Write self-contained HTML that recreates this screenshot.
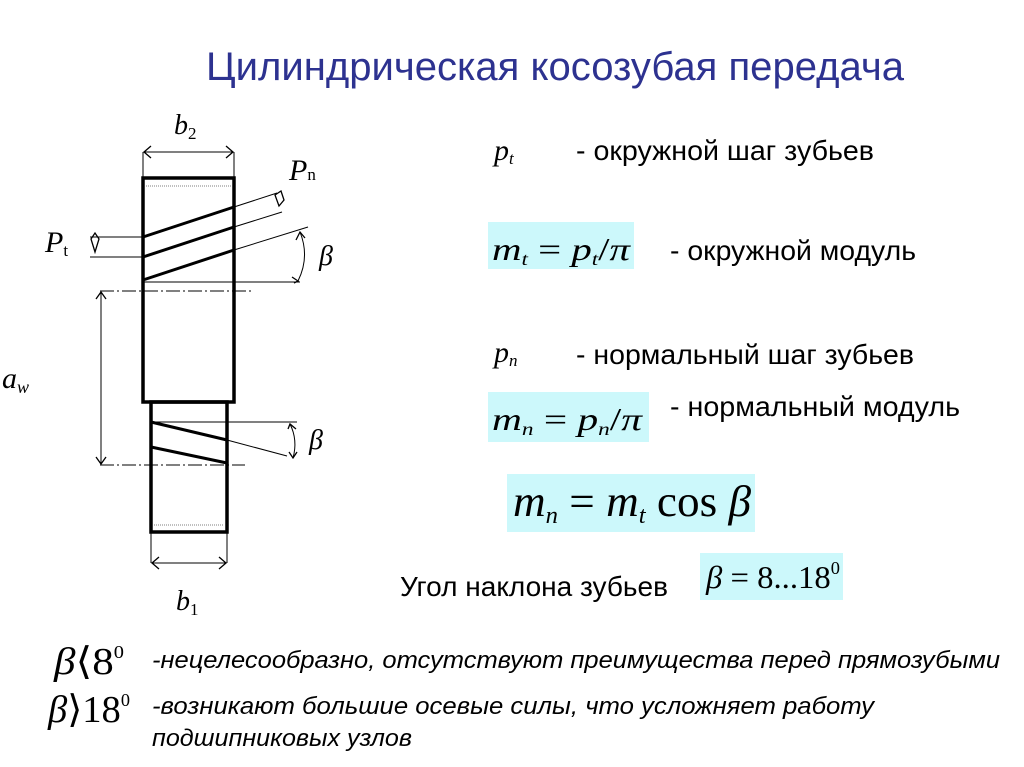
<!DOCTYPE html>
<html><head><meta charset="utf-8"><style>
body{margin:0;background:#fff;}
svg{display:block}
.s{font-family:"Liberation Sans",sans-serif;fill:#000}
.m{font-family:"Liberation Serif",serif;font-style:italic;fill:#000}
.r{font-family:"Liberation Serif",serif;fill:#000}
</style></head><body>
<svg width="1024" height="767" viewBox="0 0 1024 767" xmlns="http://www.w3.org/2000/svg">
<text x="206" y="80" class="s" font-size="40" textLength="698" lengthAdjust="spacingAndGlyphs" style="fill:#2d3290">Цилиндрическая косозубая передача</text>

<g stroke="#000" fill="none">
<rect x="143" y="178" width="91" height="224" stroke-width="3.5"/>
<rect x="151" y="402" width="76" height="130" stroke-width="3.5"/>
<line x1="146" y1="186" x2="231" y2="186" stroke-width="0.6" stroke-dasharray="1,1"/>
<line x1="154" y1="525" x2="224" y2="525" stroke-width="0.6" stroke-dasharray="1,1"/>
<line x1="143" y1="237" x2="234" y2="207" stroke-width="3"/>
<line x1="143" y1="257" x2="234" y2="227" stroke-width="3"/>
<line x1="143" y1="280" x2="234" y2="250" stroke-width="3"/>
<g stroke-width="1">
<line x1="234" y1="207" x2="277" y2="193"/>
<line x1="234" y1="227" x2="282" y2="212"/>
<line x1="234" y1="250" x2="308" y2="227"/>
<line x1="143" y1="282" x2="300" y2="282"/>
<line x1="90" y1="237" x2="143" y2="237"/>
<line x1="90" y1="257" x2="143" y2="257"/>
<path d="M300 232 Q310 257 298 281"/>
<line x1="143" y1="152" x2="143" y2="178"/><line x1="234" y1="152" x2="234" y2="178"/>
<line x1="144" y1="152" x2="233" y2="152"/>
<line x1="151" y1="532" x2="151" y2="563"/><line x1="227" y1="532" x2="227" y2="563"/>
<line x1="152" y1="563" x2="226" y2="563"/>
<line x1="101" y1="292" x2="101" y2="464"/>
<line x1="100" y1="291" x2="252" y2="291" stroke-dasharray="14,3,2,3"/>
<line x1="100" y1="465" x2="245" y2="465" stroke-dasharray="14,3,2,3"/>
<line x1="151" y1="422" x2="297" y2="422"/>
<line x1="227" y1="440" x2="287" y2="456"/>
<path d="M290 424 Q298 440 293 458"/>
</g>
<line x1="151" y1="422" x2="227" y2="440" stroke-width="3"/>
<line x1="151" y1="447" x2="227" y2="463" stroke-width="3"/>
<g stroke-width="1.3">
<path d="M151 146 L144 152 L151 158 M226 146 L233 152 L226 158"/>
<path d="M159 557 L152 563 L159 569 M219 557 L226 563 L219 569"/>
<path d="M96 299 L101 292 L106 299 M96 457 L101 464 L106 457"/>
<path d="M91 239 L95 233 L99 239 L95 252 Z"/>
<path d="M275 195 L281 191 L284 200 L279 206 Z"/>
<path d="M296 240 L300 232 L305 238 M292 277 L298 281 L294 283"/>
<path d="M288 429 L290 424 L296 429 M289 452 L293 458 L297 452"/>
</g>
</g>
<text x="174" y="134" class="m" font-size="28">b<tspan font-size="17" font-style="normal" dy="5">2</tspan></text>
<text x="289" y="180" class="m" font-size="30">P<tspan font-size="17" font-style="normal">n</tspan></text>
<text x="45" y="252" class="m" font-size="30">P<tspan font-size="17" font-style="normal" dy="4">t</tspan></text>
<text x="319" y="265" class="m" font-size="28">β</text>
<text x="309" y="449" class="m" font-size="28">β</text>
<text x="2" y="388" class="m" font-size="30">a<tspan font-size="18" dy="5">w</tspan></text>
<text x="176" y="610" class="m" font-size="28">b<tspan font-size="17" font-style="normal" dy="5">1</tspan></text>

<rect x="488" y="222" width="146" height="47" fill="#ccf8fb"/>
<rect x="488" y="392" width="161" height="50" fill="#ccf8fb"/>
<rect x="507" y="474" width="248" height="58" fill="#ccf8fb"/>
<rect x="700" y="553" width="143" height="47" fill="#ccf8fb"/>

<text x="494" y="160" class="m" font-size="30">p<tspan font-size="17" dy="4">t</tspan></text>
<text x="576" y="160" class="s" font-size="28" textLength="298" lengthAdjust="spacingAndGlyphs">- окружной шаг зубьев</text>
<text x="492" y="260" class="m" font-size="32" textLength="138" lengthAdjust="spacingAndGlyphs">m<tspan font-size="18" dy="5">t</tspan><tspan dy="-5" font-style="normal"> = </tspan>p<tspan font-size="18" dy="5">t</tspan><tspan dy="-5" font-style="normal">/</tspan>π</text>
<text x="670" y="260" class="s" font-size="28" textLength="246" lengthAdjust="spacingAndGlyphs">- окружной модуль</text>
<text x="494" y="362" class="m" font-size="30">p<tspan font-size="17" dy="4">n</tspan></text>
<text x="576" y="364" class="s" font-size="28" textLength="338" lengthAdjust="spacingAndGlyphs">- нормальный шаг зубьев</text>
<text x="492" y="430" class="m" font-size="32" textLength="150" lengthAdjust="spacingAndGlyphs">m<tspan font-size="18" dy="5">n</tspan><tspan dy="-5" font-style="normal"> = </tspan>p<tspan font-size="18" dy="5">n</tspan><tspan dy="-5" font-style="normal">/</tspan>π</text>
<text x="670" y="416" class="s" font-size="28" textLength="290" lengthAdjust="spacingAndGlyphs">- нормальный модуль</text>
<text x="513" y="516" class="m" font-size="44" textLength="238" lengthAdjust="spacingAndGlyphs">m<tspan font-size="24" dy="7">n</tspan><tspan dy="-7" font-style="normal"> = </tspan>m<tspan font-size="24" dy="7">t</tspan><tspan dy="-7" font-style="normal"> cos </tspan>β</text>
<text x="400" y="596" class="s" font-size="28" textLength="268" lengthAdjust="spacingAndGlyphs">Угол наклона зубьев</text>
<text x="706" y="588" class="m" font-size="32" textLength="134" lengthAdjust="spacingAndGlyphs">β<tspan font-style="normal"> = 8...18</tspan><tspan font-style="normal" font-size="18" dy="-14">0</tspan></text>

<text x="54" y="674" class="m" font-size="38" textLength="70" lengthAdjust="spacingAndGlyphs">β<tspan font-style="normal">⟨8</tspan><tspan font-style="normal" font-size="18" dy="-16">0</tspan></text>
<text x="152" y="668" class="s" font-size="24" font-style="italic" textLength="848" lengthAdjust="spacingAndGlyphs">-нецелесообразно, отсутствуют преимущества перед прямозубыми</text>
<text x="48" y="722" class="m" font-size="38" textLength="82" lengthAdjust="spacingAndGlyphs">β<tspan font-style="normal">⟩18</tspan><tspan font-style="normal" font-size="18" dy="-16">0</tspan></text>
<text x="152" y="714" class="s" font-size="24" font-style="italic" textLength="722" lengthAdjust="spacingAndGlyphs">-возникают большие осевые силы, что усложняет работу</text>
<text x="152" y="746" class="s" font-size="24" font-style="italic" textLength="260" lengthAdjust="spacingAndGlyphs">подшипниковых узлов</text>
</svg>
</body></html>
